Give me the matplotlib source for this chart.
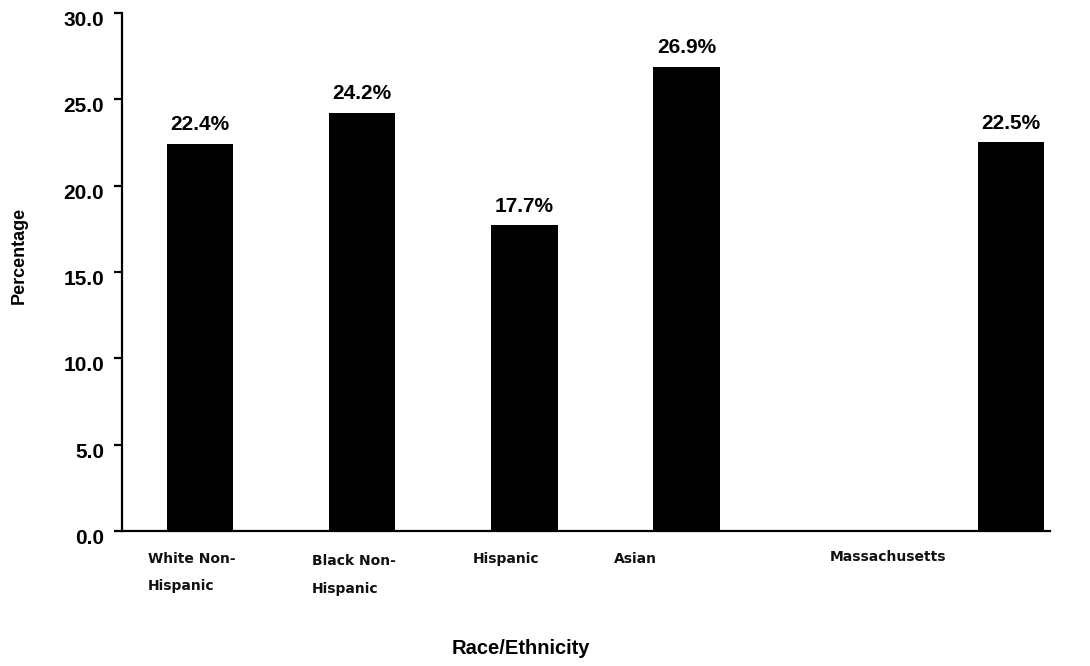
import matplotlib
matplotlib.use('Agg')
import matplotlib.pyplot as plt
import matplotlib.transforms as mtransforms
from matplotlib import font_manager

# data
categories = ['White Non-\nHispanic', 'Black Non-\nHispanic', 'Hispanic', 'Asian', 'Massachusetts']
positions = [0, 1, 2, 3, 5]          # slot 4 is left blank before the state total
values = [22.4, 24.2, 17.7, 26.9, 22.5]
yticks = [0, 5, 10, 15, 20, 25, 30]

# where each category label starts (data x, left aligned) -- matches the odd offsets in the source
label_x = [-0.32, 0.69, 1.68, 2.55, 3.88]
label_y = [-0.04, -0.045, -0.04, -0.04, -0.037]

BOLD = 'Liberation Sans'
installed = {f.name for f in font_manager.fontManager.ttflist}
NARROW = 'Liberation Sans Narrow' if 'Liberation Sans Narrow' in installed else BOLD
title_size = 16.5 if NARROW != BOLD else 14.5

fig = plt.figure(figsize=(10.9, 6.66), dpi=100)
ax = fig.add_axes([0.1119, 0.2027, 0.8514, 0.7778])

ax.bar(positions, values, width=0.41, color='black', zorder=2)
for x, v in zip(positions, values):
    ax.annotate(f'{v:.1f}%', (x, v), textcoords='offset points', xytext=(0, 7),
                ha='center', va='bottom', fontsize=15, fontweight='bold',
                family=BOLD)

ax.set_xlim(-0.48, 5.24)
ax.set_ylim(0, 30)
ax.set_yticks(yticks)
ax.set_yticklabels([f'{t:.1f}' for t in yticks], fontsize=15, fontweight='bold',
                   family=BOLD)
ax.set_xticks([])

for s in ('top', 'right'):
    ax.spines[s].set_visible(False)
for s in ('left', 'bottom'):
    ax.spines[s].set_linewidth(1.6)
ax.tick_params(axis='y', direction='out', length=6, width=1.6, pad=7)

# tick labels sit a few pixels below their ticks in the source
shift = mtransforms.ScaledTranslation(0, -4 / 72, fig.dpi_scale_trans)
for lab in ax.get_yticklabels():
    lab.set_transform(lab.get_transform() + shift)

# category labels: x in data, y in axes fraction
trans = mtransforms.blended_transform_factory(ax.transData, ax.transAxes)
for lx, ly, lab in zip(label_x, label_y, categories):
    ax.text(lx, ly, lab, transform=trans, ha='left', va='top',
            fontsize=10, fontweight='bold', family='DejaVu Sans',
            linespacing=2.2, color='#111111')

fig.text(0.478, 0.026, 'Race/Ethnicity', ha='center', va='center',
         fontsize=title_size, fontweight='bold', family=NARROW)
fig.text(0.018, 0.617, 'Percentage', ha='center', va='center', rotation=90,
         fontsize=13, fontweight='bold', family=BOLD)

fig.savefig('out.png', dpi=100)
